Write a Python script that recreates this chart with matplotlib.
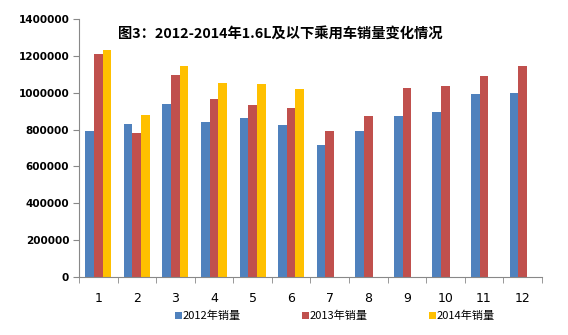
import numpy as np
from matplotlib import pyplot as plt

months = [str(m) for m in range(1, 13)]
sales_2012 = [795000, 828000, 937000, 840000, 861000, 825000, 716000, 791000, 874000, 895000, 992000, 997000]
sales_2013 = [1210000, 784000, 1094000, 967000, 933000, 919000, 795000, 874000, 1024000, 1036000, 1091000, 1145000]
sales_2014 = [1232000, 879000, 1146000, 1054000, 1049000, 1022000, np.nan, np.nan, np.nan, np.nan, np.nan, np.nan]
series_names = ["2012年销量", "2013年销量", "2014年销量"]
y_ticks = [0, 200000, 400000, 600000, 800000, 1000000, 1200000, 1400000]

plt.rcParams["font.family"] = ["Noto Sans CJK SC", "DejaVu Sans"]

fig = plt.figure(figsize=(5.68, 3.35), dpi=100)
ax = fig.add_axes([0.139, 0.173, 0.815, 0.770])

x = np.arange(len(months))
w = 0.225
colors = ["#4F81BD", "#C0504D", "#FFC000"]
bars = []
for i, (vals, c) in enumerate(zip([sales_2012, sales_2013, sales_2014], colors)):
    bars.append(ax.bar(x + (i - 1) * w, vals, w, color=c, linewidth=0))

ax.set_xlim(-0.5, len(months) - 0.5)
ax.set_ylim(0, 1400000)
ax.set_yticks(y_ticks)
ax.set_yticklabels([str(v) for v in y_ticks], fontsize=7.5, fontweight="bold", family="DejaVu Sans")
ax.set_xticks(x)
ax.set_xticklabels(months, fontsize=9, family="DejaVu Sans")
ax.set_xticks(np.arange(-0.5, len(months)), minor=True)
ax.tick_params(axis="x", which="major", length=0, pad=11)
ax.tick_params(axis="x", which="minor", length=4, color="#888888")
ax.tick_params(axis="y", length=4, color="#888888", pad=3)

for s in ["top", "right"]:
    ax.spines[s].set_visible(False)
for s in ["left", "bottom"]:
    ax.spines[s].set_color("#888888")

ax.text(0.434, 0.945, "图3：2012-2014年1.6L及以下乘用车销量变化情况", transform=ax.transAxes,
        ha="center", va="center", fontsize=10.3, fontweight="bold")

fig.legend(bars, series_names, loc="center", bbox_to_anchor=(0.59, 0.057), ncol=3,
           frameon=False, fontsize=8, handlelength=0.6, handleheight=0.6,
           handletextpad=0.1, columnspacing=5.5)

plt.savefig("out.png", dpi=100)
